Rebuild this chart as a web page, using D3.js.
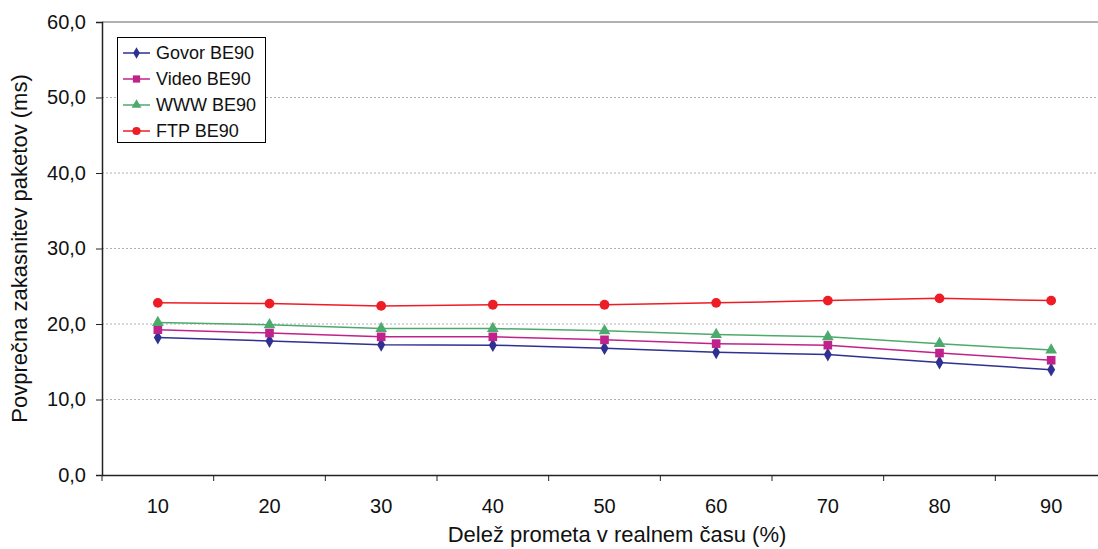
<!DOCTYPE html>
<html>
<head>
<meta charset="utf-8">
<script src="https://cdn.jsdelivr.net/npm/d3@7"></script>
<style>
  body { margin: 0; background: #fff; }
  svg { font-family: "Liberation Sans", Arial, sans-serif; }
</style>
</head>
<body>
<div id="chart"></div>
<script>
// data
var categories = ["10", "20", "30", "40", "50", "60", "70", "80", "90"];
var govor = [18.2, 17.75, 17.25, 17.2, 16.8, 16.25, 15.95, 14.9, 13.95];
var video = [19.25, 18.8, 18.3, 18.3, 17.9, 17.4, 17.2, 16.15, 15.2];
var www   = [20.2, 19.9, 19.4, 19.4, 19.1, 18.6, 18.3, 17.4, 16.55];
var ftp   = [22.8, 22.7, 22.4, 22.55, 22.55, 22.8, 23.1, 23.4, 23.1];
var yTicks = [0, 10, 20, 30, 40, 50, 60];

var series = [
  {name: "Govor BE90", values: govor, color: "#2E3192", symbol: d3.symbolDiamond, size: 55},
  {name: "Video BE90", values: video, color: "#C0228C", symbol: d3.symbolSquare, size: 75},
  {name: "WWW BE90",   values: www,   color: "#4CAA6C", symbol: d3.symbolTriangle, size: 60},
  {name: "FTP BE90",   values: ftp,   color: "#EE1C25", symbol: d3.symbolCircle, size: 75}
];

var width = 1098,
    height = 549;

var pLeft = 102, pRight = 1107, pTop = 22, pBottom = 475;

var svg = d3.select("#chart").append("svg")
  .attr("width", width)
  .attr("height", height);

var x = d3.scaleBand()
  .domain(categories)
  .range([pLeft, pRight])
  .padding(0);

var y = d3.scaleLinear()
  .domain([0, 60])
  .range([pBottom, pTop]);

function cx(i) { return x(categories[i]) + x.bandwidth() / 2; }

// grid lines
svg.selectAll(".grid").data(yTicks.filter(function(d){ return d > 0 && d < 60; }))
  .enter().append("line")
  .attr("x1", pLeft).attr("x2", pRight)
  .attr("y1", function(d){ return y(d); })
  .attr("y2", function(d){ return y(d); })
  .attr("stroke", "#b0b0b0")
  .attr("stroke-width", 1)
  .attr("stroke-dasharray", "2,2");

// top border
svg.append("line")
  .attr("x1", pLeft).attr("x2", pRight)
  .attr("y1", y(60)).attr("y2", y(60))
  .attr("stroke", "#999").attr("stroke-width", 1.5);

// y axis
var yAxis = d3.axisLeft(y)
  .tickValues(yTicks)
  .tickSize(6)
  .tickPadding(10)
  .tickFormat(function(d){ return d3.format(".1f")(d).replace(".", ","); });

var gy = svg.append("g")
  .attr("transform", "translate(" + pLeft + ",0)")
  .call(yAxis);
gy.select(".domain").attr("stroke", "#222").attr("stroke-width", 1.5);
gy.selectAll(".tick line").attr("stroke", "#222");
gy.selectAll("text").style("font-size", "20px").attr("fill", "#111");

// x axis (labels centered in bands, ticks between categories)
var xAxis = d3.axisBottom(x).tickSize(0).tickPadding(24);
var gx = svg.append("g")
  .attr("transform", "translate(0," + pBottom + ")")
  .call(xAxis);
gx.select(".domain").attr("stroke", "#222").attr("stroke-width", 1.5);
gx.selectAll("text").style("font-size", "20px").attr("fill", "#111");

var bounds = categories.map(function(c){ return x(c); }).concat([pRight]);
svg.selectAll(".xtick").data(bounds)
  .enter().append("line")
  .attr("x1", function(d){ return d; }).attr("x2", function(d){ return d; })
  .attr("y1", pBottom).attr("y2", pBottom + 6)
  .attr("stroke", "#222");

// axis titles
svg.append("text")
  .attr("x", 617)
  .attr("y", 542)
  .attr("text-anchor", "middle")
  .style("font-size", "22px")
  .attr("fill", "#111")
  .text("Delež prometa v realnem času (%)");

svg.append("text")
  .attr("transform", "translate(27," + ((pTop + pBottom) / 2) + ") rotate(-90)")
  .attr("text-anchor", "middle")
  .style("font-size", "22px")
  .attr("fill", "#111")
  .text("Povprečna zakasnitev paketov (ms)");

// lines and markers
var line = d3.line()
  .x(function(d, i){ return cx(i); })
  .y(function(d){ return y(d); });

series.forEach(function(s) {
  svg.append("path")
    .datum(s.values)
    .attr("d", line)
    .attr("fill", "none")
    .attr("stroke", s.color)
    .attr("stroke-width", 1.5);

  svg.selectAll(null).data(s.values)
    .enter().append("path")
    .attr("d", d3.symbol().type(s.symbol).size(s.size))
    .attr("transform", function(d, i){ return "translate(" + cx(i) + "," + y(d) + ")"; })
    .attr("fill", s.color);
});

// legend
var legend = svg.append("g");
legend.append("rect")
  .attr("x", 117.5).attr("y", 37.5)
  .attr("width", 148).attr("height", 105)
  .attr("fill", "#fff")
  .attr("stroke", "#000");

series.forEach(function(s, i) {
  var ly = 53 + i * 26;
  legend.append("line")
    .attr("x1", 123).attr("x2", 150)
    .attr("y1", ly).attr("y2", ly)
    .attr("stroke", s.color).attr("stroke-width", 1.5);
  legend.append("path")
    .attr("d", d3.symbol().type(s.symbol).size(s.size * 0.7))
    .attr("transform", "translate(136.5," + ly + ")")
    .attr("fill", s.color);
  legend.append("text")
    .attr("x", 156).attr("y", ly)
    .attr("dy", "0.35em")
    .style("font-size", "18px")
    .attr("fill", "#111")
    .text(s.name);
});
</script>
</body>
</html>
